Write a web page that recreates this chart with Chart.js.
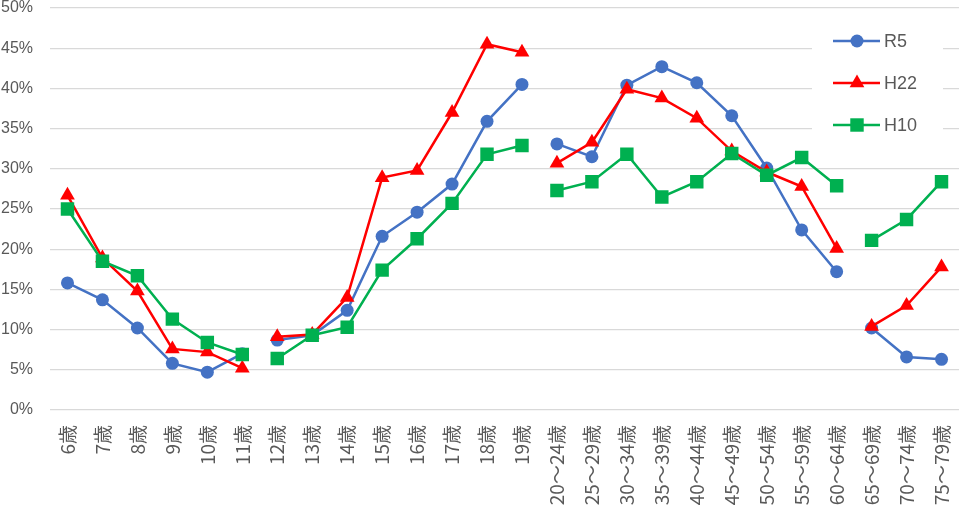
<!DOCTYPE html>
<html><head><meta charset="utf-8">
<script src="https://cdn.jsdelivr.net/npm/chart.js@4/dist/chart.umd.min.js"></script>
<style>html,body{margin:0;padding:0;background:#fff}#wrap{width:960px;height:510px}</style>
</head><body><div id="wrap"><canvas id="c" width="960" height="510"></canvas></div>
<script>
const categories = ['6歳','7歳','8歳','9歳','10歳','11歳','12歳','13歳','14歳','15歳','16歳','17歳','18歳','19歳',
 '20～24歳','25～29歳','30～34歳','35～39歳','40～44歳','45～49歳','50～54歳','55～59歳','60～64歳','65～69歳','70～74歳','75～79歳'];
const seriesNames = ['R5','H22','H10'];
const r5  = [15.8,13.7,10.2,5.8,4.7,7.0, 8.7,9.3,12.4,21.6,24.6,28.1,35.9,40.5, 33.1,31.5,40.4,42.7,40.7,36.6,30.1,22.4,17.2, 10.2,6.6,6.3];
const h22 = [26.7,18.9,14.8,7.6,7.2,5.2, 9.1,9.4,14.0,28.9,29.8,37.0,45.5,44.5, 30.7,33.3,39.9,38.8,36.3,32.2,29.6,27.8,20.1, 10.4,13.0,17.8];
const h10 = [25.0,18.5,16.7,11.3,8.4,6.9, 6.4,9.3,10.3,17.4,21.3,25.7,31.8,32.9, 27.3,28.4,31.8,26.5,28.4,31.9,29.2,31.4,27.9, 21.1,23.7,28.4];
const breakAfter = [5,13,22];
const yTicks = [0,5,10,15,20,25,30,35,40,45,50];

const colors = ['#4472C4','#FF0000','#00B050'];
const styles = ['circle','triangle','rect'];
const radii = [6.5,8.5,9.5];
const FONT = '"Liberation Sans","Noto Sans CJK JP",sans-serif';
const JFONT = '"Noto Sans CJK JP",sans-serif';

function mk(i, data, order){
  const col = colors[i];
  return {label: seriesNames[i], data, borderColor: col, backgroundColor: col, borderWidth: 2.5,
    pointStyle: styles[i], pointRadius: radii[i], pointBorderWidth: 0, pointBackgroundColor: col,
    order, tension: 0,
    segment: {borderColor: ctx => breakAfter.includes(ctx.p0DataIndex) ? 'rgba(0,0,0,0)' : col}};
}

const legendPlugin = {
  id: 'inlegend',
  afterDraw(chart){
    const ctx = chart.ctx;
    ctx.save();
    ctx.fillStyle = '#fff';
    ctx.fillRect(812, 18, 131, 132);
    const ys = [41, 83, 125];
    for (let i=0;i<3;i++){
      const y = ys[i];
      ctx.strokeStyle = colors[i]; ctx.lineWidth = 2.5;
      ctx.beginPath(); ctx.moveTo(833, y); ctx.lineTo(880, y); ctx.stroke();
      ctx.fillStyle = colors[i];
      const cx = 857, r = radii[i];
      ctx.beginPath();
      if (styles[i]==='circle'){ ctx.arc(cx,y,r,0,Math.PI*2); }
      else if (styles[i]==='triangle'){
        ctx.moveTo(cx, y - r); ctx.lineTo(cx + r*Math.sqrt(3)/2, y + r/2); ctx.lineTo(cx - r*Math.sqrt(3)/2, y + r/2); ctx.closePath();
      } else { const s = r*Math.SQRT1_2; ctx.rect(cx-s, y-s, 2*s, 2*s); }
      ctx.fill();
      ctx.fillStyle = '#595959';
      ctx.font = '18px ' + FONT;
      ctx.textBaseline = 'middle'; ctx.textAlign = 'left';
      ctx.fillText(seriesNames[i], 884, y+1);
    }
    ctx.restore();
  }
};

new Chart(document.getElementById('c'), {
  type: 'line',
  data: { labels: categories, datasets: [mk(0, r5, 3), mk(1, h22, 2), mk(2, h10, 1)] },
  options: {
    responsive: false, animation: false, devicePixelRatio: 1,
    layout: {autoPadding: false, padding: {top: 8, right: 1, bottom: 0, left: 0}},
    plugins: {legend: {display: false}, tooltip: {enabled: false}},
    scales: {
      x: {
        offset: true,
        grid: {display: false, drawTicks: false},
        border: {display: false},
        ticks: {color: '#595959', font: {size: 19, family: JFONT}, maxRotation: 90, minRotation: 90, autoSkip: false, padding: 15},
        afterFit: s => { s.height = 100; s.paddingLeft = 0; s.paddingRight = 0; }
      },
      y: {
        min: 0, max: 50,
        afterBuildTicks: s => { s.ticks = yTicks.map(v => ({value: v})); },
        grid: {color: '#d9d9d9', lineWidth: 1.3, drawTicks: false},
        border: {display: false},
        ticks: {color: '#595959', font: {size: 16, family: FONT}, padding: 17, callback: v => v + '%'},
        afterFit: s => { s.width = 50; s.paddingTop = 0; s.paddingBottom = 0; }
      }
    }
  },
  plugins: [legendPlugin]
});
</script></body></html>
